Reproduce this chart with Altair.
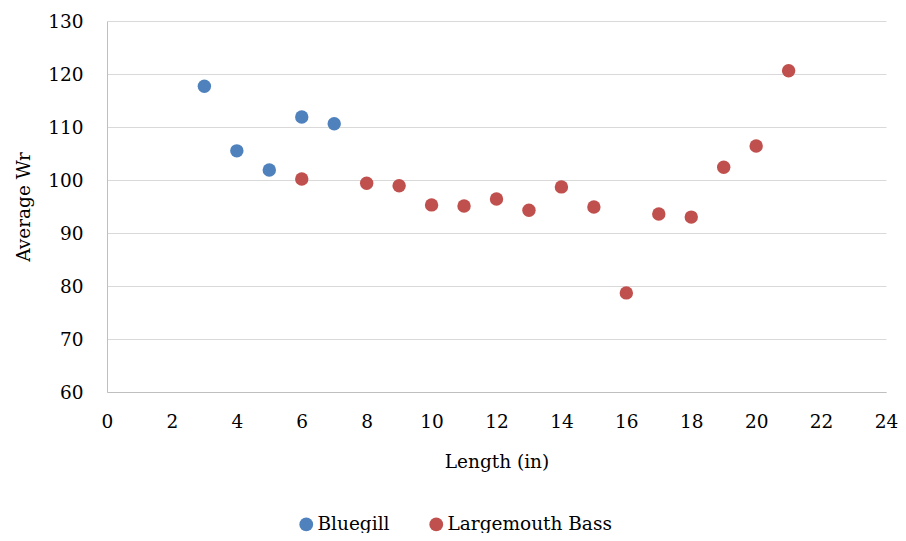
import altair as alt
import pandas as pd

bluegill_len = [3, 4, 5, 6, 7]
bluegill_wr = [117.7, 105.5, 101.9, 111.9, 110.6]
bass_len = [6, 8, 9, 10, 11, 12, 13, 14, 15, 16, 17, 18, 19, 20, 21]
bass_wr = [100.2, 99.4, 98.9, 95.3, 95.1, 96.4, 94.3, 98.7, 94.9, 78.7, 93.6, 93.0, 102.4, 106.4, 120.6]
x_ticks = list(range(0, 25, 2))
y_ticks = list(range(60, 131, 10))

df = pd.concat([
    pd.DataFrame({"len": bluegill_len, "wr": bluegill_wr, "species": "Bluegill"}),
    pd.DataFrame({"len": bass_len, "wr": bass_wr, "species": "Largemouth Bass"}),
])

FONT = "DejaVu Serif"

chart = alt.Chart(df).mark_circle(size=180, opacity=1).encode(
    x=alt.X("len:Q", title="Length (in)",
            scale=alt.Scale(domain=[0, 24], nice=False),
            axis=alt.Axis(values=x_ticks, grid=False, ticks=False, domainColor="#BFBFBF",
                          labelFlush=False, labelPadding=20, titlePadding=22,
                          labelFontSize=18.5, titleFontSize=18.5,
                          labelColor="#000", titleColor="#000", titleFontWeight="normal")),
    y=alt.Y("wr:Q", title="Average Wr",
            scale=alt.Scale(domain=[60, 130], nice=False),
            axis=alt.Axis(values=y_ticks, grid=True, gridColor="#D9D9D9", ticks=False,
                          domainColor="#BFBFBF", labelFlush=False, labelPadding=24, titlePadding=14,
                          labelFontSize=18.5, titleFontSize=18.5, labelColor="#000",
                          titleColor="#000", titleFontWeight="normal")),
    color=alt.Color("species:N", title=None,
                    scale=alt.Scale(domain=["Bluegill", "Largemouth Bass"], range=["#4F81BD", "#C0504D"]),
                    legend=alt.Legend(orient="none", legendX=190, legendY=494, direction="horizontal",
                                      symbolType="circle", symbolSize=190, labelFontSize=18.5,
                                      labelLimit=400, labelColor="#000", columnPadding=37,
                                      labelOffset=2)),
).properties(
    width=779, height=371,
    autosize=alt.AutoSizeParams(type="none"),
    padding={"left": 99, "top": 13, "right": 12, "bottom": 141},
).configure(font=FONT).configure_view(stroke=None)

chart.save("out.html", embed_options={"renderer": "svg", "actions": False})
